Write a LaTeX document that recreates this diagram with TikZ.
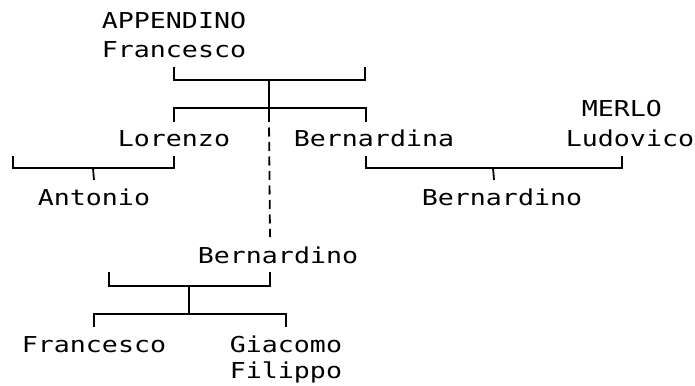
\documentclass[tikz,border=0pt]{standalone}
\usepackage{fontspec}
\newfontfamily\treefont[FakeStretch=1.215]{DejaVu Sans Mono}
\newcommand{\tree}{\treefont\fontsize{21.9pt}{29pt}\selectfont}

\begin{document}
\begin{tikzpicture}[x=1pt,y=-1pt,line width=1.8pt]
\tikzstyle{nm}=[anchor=base west,inner sep=0pt,font=\tree]
\tikzstyle{every node}=[nm]
\tikzstyle{dotted link}=[dash pattern=on 9pt off 5.5pt,dash phase=9pt]
\useasboundingbox (0,0) rectangle (695,385);

\node(AP) at (101,29) {APPENDINO};
\node(F1) at (101,58) {Francesco};
\node(L) at (117,146) {Lorenzo};
\node(B1) at (293,146) {Bernardina};
\node(ME) at (581,117) {MERLO};
\node(LU) at (565,146) {Ludovico};
\node(AN) at (37,205) {Antonio};
\node(B2) at (421,205) {Bernardino};
\node(B3) at (197,263) {Bernardino};
\node(F2) at (21,352) {Francesco};
\node(G) at (229,352) {Giacomo};
\node(FI) at (229,378) {Filippo};

\coordinate (m1) at (269,80);
\coordinate (x1) at (365,67);
\coordinate (s1) at (269,108);
\coordinate (m2) at (93,168);
\coordinate (x2) at (13,156);
\coordinate (m3) at (493,168);
\coordinate (m4) at (189,286);
\coordinate (x4) at (109,272);
\coordinate (s4) at (189,314);

\draw ([yshift=-9pt]F1.base) |- (m1) -| (x1);
\draw (m1) -- (s1);
\draw ([yshift=24pt]L.base) |- (s1) -| ([xshift=-8pt,yshift=24pt]B1.base);
\draw (s1) -- ++(0,14) coordinate (d1);
\draw[dotted link] (d1) -- ([xshift=-8pt,yshift=26pt]B3.base);

\draw ([yshift=-10pt]L.base) |- (m2) -| (x2);
\draw (m2) -- ([yshift=25pt]AN.base);

\draw ([xshift=-8pt,yshift=-10pt]B1.base) |- (m3) -| ([xshift=-8pt,yshift=-10pt]LU.base);
\draw (m3) -- ([xshift=-8pt,yshift=25pt]B2.base);

\draw ([xshift=-8pt,yshift=-9pt]B3.base) |- (m4) -| (x4);
\draw (m4) -- (s4);
\draw ([yshift=25pt]F2.base) |- (s4) -| ([yshift=25pt]G.base);
\end{tikzpicture}
\end{document}
